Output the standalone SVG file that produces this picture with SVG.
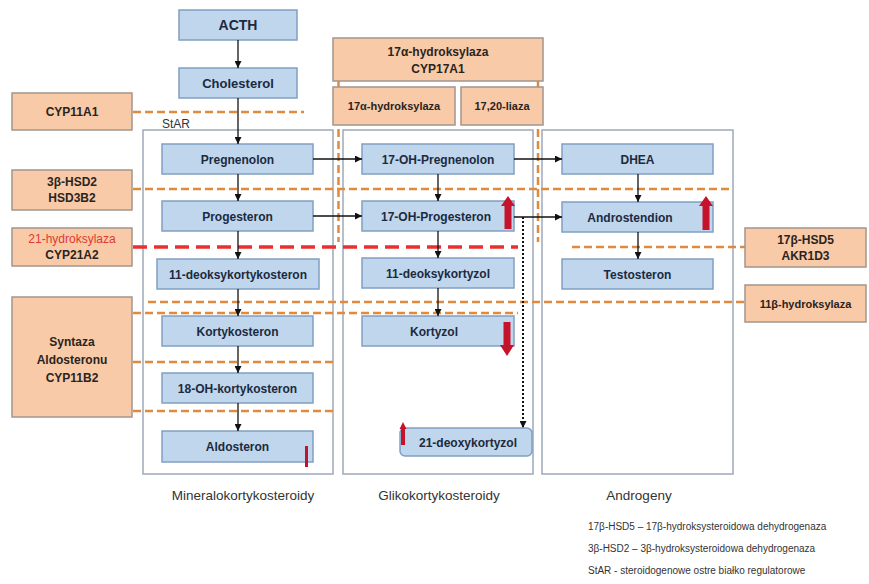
<svg xmlns="http://www.w3.org/2000/svg" width="869" height="584" viewBox="0 0 869 584">
<defs>
<marker id="ah" viewBox="0 0 10 10" refX="10" refY="5" markerWidth="7" markerHeight="7" markerUnits="userSpaceOnUse" orient="auto"><path d="M0,0 L10,5 L0,10 z" fill="#111"/></marker>
<style>
.cont{fill:#fff;stroke:#9ea8ba;stroke-width:1.5}
.bb rect{fill:#bfd6ec;stroke:#819fc2;stroke-width:1.5}
.ob rect{fill:#f8caa8;stroke:#a3958c;stroke-width:1.5}
.t{font-family:"Liberation Sans",Arial,sans-serif;font-weight:bold;font-size:12px;fill:#1c2a40;text-anchor:middle}
.to{font-family:"Liberation Sans",Arial,sans-serif;font-weight:bold;font-size:12px;fill:#2a2420;text-anchor:middle}
.lab{font-family:"Liberation Sans",Arial,sans-serif;font-size:13.5px;fill:#333;text-anchor:middle}
.leg{font-family:"Liberation Sans",Arial,sans-serif;font-size:10px;fill:#333}
.od{stroke:#df8a3e;stroke-width:2.5;stroke-dasharray:8,4;fill:none}
.rd{stroke:#e8302e;stroke-width:3.5;stroke-dasharray:14,7;fill:none}
.ar{stroke:#111;stroke-width:1.3;fill:none;marker-end:url(#ah)}
.dot{stroke:#111;stroke-width:2;stroke-dasharray:2,2;fill:none;marker-end:url(#ah)}
.red{fill:#c5132b}
</style>
</defs>
<rect width="869" height="584" fill="#fff"/>

<g id="containers">
<rect class="cont" x="143" y="130" width="190" height="344"/>
<rect class="cont" x="343" y="130" width="190" height="344"/>
<rect class="cont" x="542" y="130" width="191" height="344"/>
</g>

<g id="enzyme-lines">
<line class="od" x1="133" y1="112" x2="304" y2="112"/>
<line class="od" x1="133" y1="189" x2="733" y2="189"/>
<line class="rd" x1="133" y1="247" x2="518" y2="247"/>
<line class="od" x1="572" y1="247" x2="745" y2="247"/>
<line class="od" x1="148" y1="302" x2="745" y2="302"/>
<line class="od" x1="133" y1="313" x2="518" y2="313"/>
<line class="od" x1="133" y1="362" x2="333" y2="362"/>
<line class="od" x1="133" y1="411" x2="333" y2="411"/>
<line class="od" x1="338.5" y1="81" x2="338.5" y2="242"/>
<line class="od" x1="538" y1="81" x2="538" y2="242"/>
</g>

<g id="n-acth" class="bb"><rect x="179" y="10" width="118" height="30"/><text class="t" x="238" y="30" style="font-size:14px">ACTH</text></g>
<g id="n-cholesterol" class="bb"><rect x="179" y="68" width="118" height="30"/><text class="t" x="238" y="87.5" style="font-size:13px">Cholesterol</text></g>
<g id="n-pregnenolon" class="bb"><rect x="162" y="144" width="151" height="30"/><text class="t" x="237.5" y="163.5">Pregnenolon</text></g>
<g id="n-progesteron" class="bb"><rect x="162" y="201" width="151" height="30"/><text class="t" x="237.5" y="220.5">Progesteron</text></g>
<g id="n-11-deoksykortykosteron" class="bb"><rect x="157" y="259" width="162" height="30"/><text class="t" x="238" y="278.5">11-deoksykortykosteron</text></g>
<g id="n-kortykosteron" class="bb"><rect x="162" y="316" width="151" height="30"/><text class="t" x="237.5" y="335.5">Kortykosteron</text></g>
<g id="n-18-oh-kortykosteron" class="bb"><rect x="162" y="373" width="151" height="30"/><text class="t" x="237.5" y="392.5">18-OH-kortykosteron</text></g>
<g id="n-aldosteron" class="bb"><rect x="162" y="431" width="151" height="31"/><text class="t" x="237.5" y="451">Aldosteron</text></g>

<g id="n-17-oh-pregnenolon" class="bb"><rect x="362" y="144" width="152" height="30"/><text class="t" x="438" y="163.5">17-OH-Pregnenolon</text></g>
<g id="n-17-oh-progesteron" class="bb"><rect x="362" y="201" width="152" height="30"/><text class="t" x="436" y="220.5">17-OH-Progesteron</text></g>
<g id="n-11-deoksykortyzol" class="bb"><rect x="362" y="258" width="152" height="30"/><text class="t" x="438" y="277.5">11-deoksykortyzol</text></g>
<g id="n-kortyzol" class="bb"><rect x="362" y="316" width="152" height="30"/><text class="t" x="434" y="335.5">Kortyzol</text></g>
<g id="n-21-deoxykortyzol" class="bb"><rect x="400" y="428" width="132" height="28" rx="5"/><text class="t" x="468" y="446.5">21-deoxykortyzol</text></g>

<g id="n-dhea" class="bb"><rect x="562" y="144" width="151" height="30"/><text class="t" x="637.5" y="163.5">DHEA</text></g>
<g id="n-androstendion" class="bb"><rect x="562" y="202" width="151" height="30"/><text class="t" x="630" y="221.5">Androstendion</text></g>
<g id="n-testosteron" class="bb"><rect x="562" y="259" width="151" height="30"/><text class="t" x="637.5" y="278.5">Testosteron</text></g>

<g id="e-cyp11a1" class="ob"><rect x="12" y="93" width="120" height="37"/><text class="to" x="72" y="116">CYP11A1</text></g>
<g id="e-3b-hsd2" class="ob"><rect x="12" y="170" width="120" height="40"/><text class="to" x="72" y="186">3β-HSD2</text><text class="to" x="72" y="202">HSD3B2</text></g>
<g id="e-cyp21a2" class="ob"><rect x="12" y="228" width="120" height="38"/><text class="to" x="72" y="243" style="fill:#e0392f;font-weight:normal">21-hydroksylaza</text><text class="to" x="72" y="259">CYP21A2</text></g>
<g id="e-cyp11b2" class="ob"><rect x="12" y="297" width="120" height="120"/><text class="to" x="72" y="346">Syntaza</text><text class="to" x="72" y="364">Aldosteronu</text><text class="to" x="72" y="382">CYP11B2</text></g>
<g id="e-cyp17a1" class="ob"><rect x="333" y="38" width="210" height="43"/><text class="to" x="438" y="56">17α-hydroksylaza</text><text class="to" x="438" y="73">CYP17A1</text></g>
<g id="e-17a-hydroksylaza" class="ob"><rect x="333" y="87" width="122" height="38"/><text class="to" x="394" y="110" style="font-size:11px">17α-hydroksylaza</text></g>
<g id="e-17-20-liaza" class="ob"><rect x="461" y="87" width="82" height="38"/><text class="to" x="502" y="110" style="font-size:11px">17,20-liaza</text></g>
<g id="e-17b-hsd5" class="ob"><rect x="745" y="228" width="121" height="39"/><text class="to" x="805.5" y="244">17β-HSD5</text><text class="to" x="805.5" y="260">AKR1D3</text></g>
<g id="e-11b-hydroksylaza" class="ob"><rect x="745" y="285" width="121" height="37"/><text class="to" x="805.5" y="308" style="font-size:11px">11β-hydroksylaza</text></g>

<g id="connectors">
<line class="ar" x1="238" y1="40" x2="238" y2="68"/>
<line class="ar" x1="238" y1="98" x2="238" y2="144"/>
<line class="ar" x1="238" y1="174" x2="238" y2="201"/>
<line class="ar" x1="238" y1="231" x2="238" y2="259"/>
<line class="ar" x1="238" y1="289" x2="238" y2="316"/>
<line class="ar" x1="238" y1="346" x2="238" y2="373"/>
<line class="ar" x1="238" y1="403" x2="238" y2="431"/>
<line class="ar" x1="313" y1="159" x2="362" y2="159"/>
<line class="ar" x1="313" y1="216" x2="362" y2="216"/>
<line class="ar" x1="438" y1="174" x2="438" y2="201"/>
<line class="ar" x1="438" y1="231" x2="438" y2="258"/>
<line class="ar" x1="438" y1="288" x2="438" y2="316"/>
<line class="ar" x1="514" y1="159" x2="562" y2="159"/>
<line class="ar" x1="514" y1="217" x2="562" y2="217"/>
<line class="ar" x1="638" y1="174" x2="638" y2="202"/>
<line class="ar" x1="638" y1="232" x2="638" y2="259"/>
<line class="dot" x1="523" y1="217" x2="523" y2="428"/>
</g>

<g id="level-arrows">
<path class="red" d="M504.5,229 V206 H501 L508,196 L515,206 H511.5 V229 z"/>
<path class="red" d="M702.5,230 V206 H699 L706,196 L713,206 H709.5 V230 z"/>
<path class="red" d="M503.5,322 V345 H500 L507,356 L514,345 H510.5 V322 z"/>
<rect class="red" x="305" y="446" width="3" height="21"/>
<path class="red" d="M401,445 V429 H399.5 L403,422 L406.5,429 H405 V445 z"/>
</g>

<g id="labels">
<text class="lab" x="162" y="128" style="text-anchor:start;font-size:12px">StAR</text>
<text class="lab" x="243" y="500">Mineralokortykosteroidy</text>
<text class="lab" x="439" y="500">Glikokortykosteroidy</text>
<text class="lab" x="639" y="500">Androgeny</text>
<text class="leg" x="588" y="530">17β-HSD5 – 17β-hydroksysteroidowa dehydrogenaza</text>
<text class="leg" x="588" y="552">3β-HSD2 – 3β-hydroksysteroidowa dehydrogenaza</text>
<text class="leg" x="588" y="574">StAR - steroidogenowe ostre białko regulatorowe</text>
</g>
</svg>
